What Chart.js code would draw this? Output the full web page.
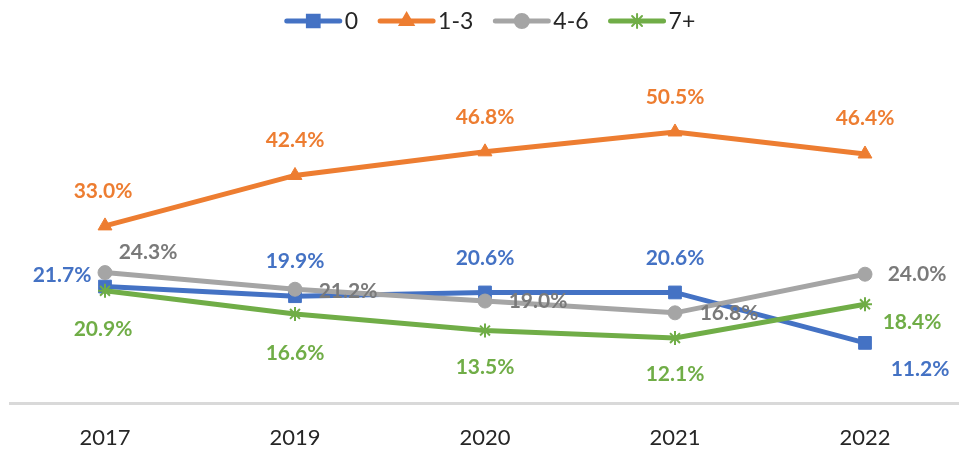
<!DOCTYPE html>
<html>
<head>
<meta charset="utf-8">
<script src="https://cdn.jsdelivr.net/npm/chart.js@4/dist/chart.umd.min.js"></script>
<style>
  html, body { margin: 0; padding: 0; background: #fff; overflow: hidden; }
  #chart { display: block; }
</style>
</head>
<body>
<canvas id="chart" width="970" height="455"></canvas>
<script>
// categorie e serie (valori in %)
const years = ['2017', '2019', '2020', '2021', '2022'];
const seriesNames = ['0', '1-3', '4-6', '7+'];
const val0 = [21.7, 19.9, 20.6, 20.6, 11.2];
const val13 = [33.0, 42.4, 46.8, 50.5, 46.4];
const val46 = [24.3, 21.2, 19.0, 16.8, 24.0];
const val7 = [20.9, 16.6, 13.5, 12.1, 18.4];

const FONT = 'Lato, "Liberation Sans", sans-serif';

// stile per serie
const styles = [
  { color: '#4472C4', label: '#4472C4', point: 'rect', radius: 9 },
  { color: '#ED7D31', label: '#ED7D31', point: 'triangle', radius: 8 },
  { color: '#A5A5A5', label: '#7A7A7A', point: 'circle', radius: 7 },
  { color: '#70AD47', label: '#70AD47', point: 'star', radius: 7 }
];

// posizione delle etichette rispetto al punto (dx, dy)
const labelOffsets = [
  [[-43, -11], [0, -35], [0, -34], [0, -34], [55, 26]],
  [[-2, -35], [0, -35], [0, -35], [0, -35], [0, -36]],
  [[43, -20], [53, 2], [53, 0], [54, 0], [52, 0]],
  [[-2, 38], [0, 39], [0, 37], [0, 36], [47, 18]]
];

const dataLabels = {
  id: 'dataLabels',
  afterDatasetsDraw(chart) {
    const ctx = chart.ctx;
    ctx.save();
    ctx.font = 'bold 21px ' + FONT;
    ctx.textAlign = 'center';
    ctx.textBaseline = 'middle';
    chart.data.datasets.forEach((ds, i) => {
      const meta = chart.getDatasetMeta(i);
      ctx.fillStyle = styles[i].label;
      meta.data.forEach((pt, j) => {
        const off = labelOffsets[i][j];
        ctx.fillText(ds.data[j].toFixed(1) + '%', pt.x + off[0], pt.y + off[1]);
      });
    });
    ctx.restore();
  }
};

// legenda con linea + marcatore, come in Excel
const lineLegend = {
  id: 'lineLegend',
  afterDraw(chart) {
    const ctx = chart.ctx;
    const lineW = 57, gap = 3, itemGap = 20, y = 21;
    ctx.save();
    ctx.font = '23px ' + FONT;
    ctx.textBaseline = 'middle';
    const widths = seriesNames.map(n => lineW + gap + ctx.measureText(n).width);
    const total = widths.reduce((a, b) => a + b, 0) + itemGap * (widths.length - 1);
    let x = 490 - total / 2;
    seriesNames.forEach((name, i) => {
      const st = styles[i];
      ctx.strokeStyle = st.color;
      ctx.fillStyle = st.color;
      ctx.lineWidth = 5;
      ctx.lineCap = 'round';
      ctx.beginPath();
      ctx.moveTo(x + 2, y);
      ctx.lineTo(x + lineW - 2, y);
      ctx.stroke();
      ctx.lineWidth = 2;
      Chart.helpers.drawPoint(ctx, { pointStyle: st.point, radius: st.radius, rotation: 0, borderWidth: 2 }, x + lineW / 2, y);
      ctx.fillStyle = '#262626';
      ctx.fillText(name, x + lineW + gap, y + 1);
      x += widths[i] + itemGap;
    });
    ctx.restore();
  }
};

const allValues = [val0, val13, val46, val7];

new Chart(document.getElementById('chart'), {
  type: 'line',
  data: {
    labels: years,
    datasets: allValues.map((vals, i) => ({
      label: seriesNames[i],
      data: vals,
      borderColor: styles[i].color,
      backgroundColor: styles[i].color,
      borderWidth: 5,
      tension: 0,
      pointStyle: styles[i].point,
      pointRadius: styles[i].radius,
      pointBorderWidth: i === 3 ? 2 : 1,
      pointBackgroundColor: styles[i].color,
      pointBorderColor: styles[i].color,
      order: 3 - i
    }))
  },
  options: {
    responsive: false,
    animation: false,
    layout: { padding: { top: 81, left: 9, right: 1, bottom: 2 } },
    plugins: {
      legend: { display: false },
      tooltip: { enabled: false }
    },
    scales: {
      x: {
        offset: true,
        grid: { display: false },
        border: { display: true, color: '#D9D9D9', width: 3 },
        ticks: { color: '#262626', padding: 14, font: { family: FONT, size: 22 } },
        afterFit(scale) { scale.height = 50; }
      },
      y: {
        display: false,
        min: 0,
        max: 60
      }
    }
  },
  plugins: [dataLabels, lineLegend]
});
</script>
</body>
</html>
